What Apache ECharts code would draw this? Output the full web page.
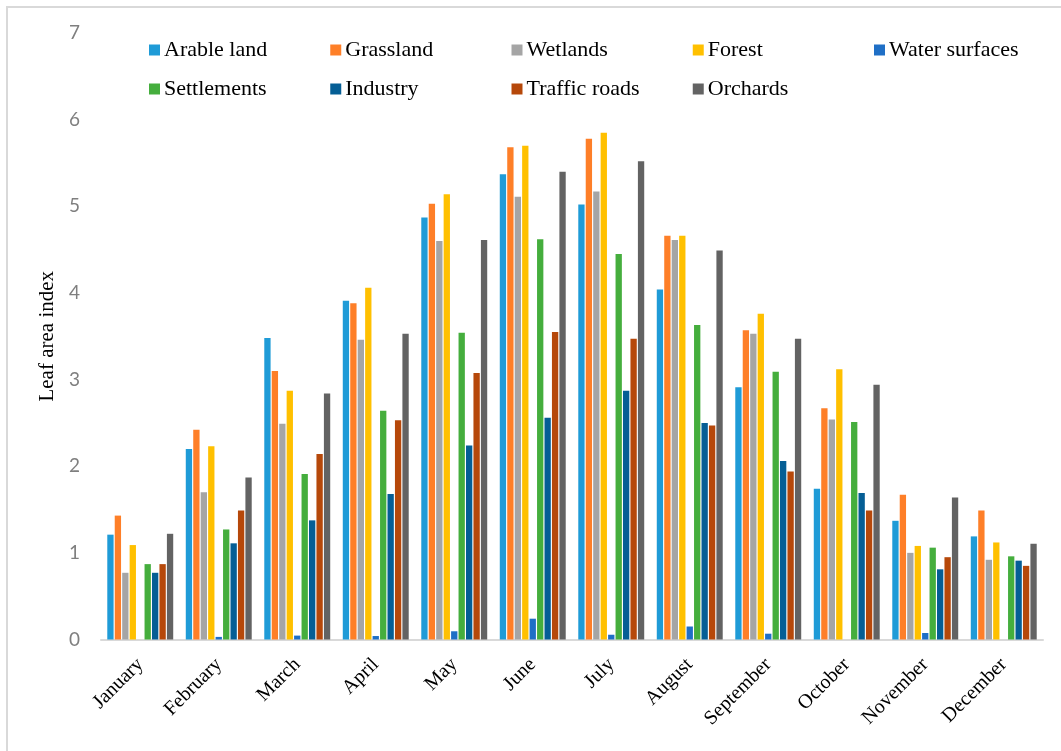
<!DOCTYPE html>
<html>
<head>
<meta charset="utf-8">
<script src="https://cdn.jsdelivr.net/npm/echarts@6/dist/echarts.min.js"></script>
<style>
  html, body { margin: 0; padding: 0; background: #fff; }
  #chart { width: 1061px; height: 751px; }
</style>
</head>
<body>
<div id="chart"></div>
<script>
// Monthly leaf area index by land-use class
const months = ['January', 'February', 'March', 'April', 'May', 'June',
  'July', 'August', 'September', 'October', 'November', 'December'];
const yTicks = [0, 1, 2, 3, 4, 5, 6, 7];

const arableLand    = [1.21, 2.20, 3.48, 3.91, 4.87, 5.37, 5.02, 4.04, 2.91, 1.74, 1.37, 1.19];
const grassland     = [1.43, 2.42, 3.10, 3.88, 5.03, 5.68, 5.78, 4.66, 3.57, 2.67, 1.67, 1.49];
const wetlands      = [0.77, 1.70, 2.49, 3.46, 4.60, 5.11, 5.17, 4.61, 3.53, 2.54, 1.00, 0.92];
const forest        = [1.09, 2.23, 2.87, 4.06, 5.14, 5.70, 5.85, 4.66, 3.76, 3.12, 1.08, 1.12];
const waterSurfaces = [0, 0.03, 0.045, 0.04, 0.095, 0.24, 0.055, 0.15, 0.067, 0, 0.075, 0];
const settlements   = [0.87, 1.27, 1.91, 2.64, 3.54, 4.62, 4.45, 3.63, 3.09, 2.51, 1.06, 0.96];
const industry      = [0.77, 1.11, 1.375, 1.68, 2.24, 2.56, 2.87, 2.50, 2.06, 1.69, 0.81, 0.91];
const trafficRoads  = [0.87, 1.49, 2.14, 2.53, 3.075, 3.55, 3.47, 2.47, 1.94, 1.49, 0.95, 0.85];
const orchards      = [1.22, 1.87, 2.84, 3.53, 4.61, 5.40, 5.52, 4.49, 3.47, 2.94, 1.64, 1.105];

const seriesDefs = [
  ['Arable land', arableLand, '#1f9bd7'],
  ['Grassland', grassland, '#fe7f28'],
  ['Wetlands', wetlands, '#a5a5a5'],
  ['Forest', forest, '#ffc000'],
  ['Water surfaces', waterSurfaces, '#1f6fc6'],
  ['Settlements', settlements, '#45ae3d'],
  ['Industry', industry, '#055e95'],
  ['Traffic roads', trafficRoads, '#b6480a'],
  ['Orchards', orchards, '#636363']
];

const serif = '"Liberation Serif", "Times New Roman", serif';

const legendCommon = {
  orient: 'horizontal',
  icon: 'rect',
  itemWidth: 11,
  itemHeight: 11,
  itemGap: 16.25,
  selectedMode: false,
  textStyle: {
    fontFamily: serif,
    fontSize: 22,
    color: '#000',
    width: 150,
    lineHeight: 24,
    padding: [0, 0, 0, -1]
  },
  padding: 0
};

const chart = echarts.init(document.getElementById('chart'), null, { renderer: 'canvas' });

chart.setOption({
  animation: false,
  backgroundColor: '#fff',
  graphic: [{
    type: 'rect',
    shape: { x: 7, y: 7, width: 2000, height: 2000 },
    style: { fill: 'none', stroke: '#d9d9d9', lineWidth: 2 },
    silent: true
  }],
  legend: [
    Object.assign({}, legendCommon, {
      left: 149, top: 38,
      data: seriesDefs.slice(0, 5).map(d => d[0])
    }),
    Object.assign({}, legendCommon, {
      left: 149, top: 77,
      data: seriesDefs.slice(5).map(d => d[0])
    })
  ],
  grid: { left: 101, right: 18, top: 33, bottom: 111.5, containLabel: false },
  xAxis: {
    type: 'category',
    data: months,
    axisTick: { show: false },
    axisLine: { lineStyle: { color: '#d9d9d9', width: 2 } },
    axisLabel: {
      rotate: 45,
      margin: 22,
      interval: 0,
      fontFamily: serif,
      fontSize: 20,
      color: '#000'
    }
  },
  yAxis: {
    type: 'value',
    min: yTicks[0],
    max: yTicks[yTicks.length - 1],
    interval: 1,
    name: 'Leaf area index',
    nameLocation: 'middle',
    nameGap: 35,
    nameTextStyle: { fontFamily: serif, fontSize: 21, color: '#000' },
    axisLine: { show: false },
    axisTick: { show: false },
    splitLine: { show: false },
    axisLabel: {
      margin: 21,
      fontFamily: 'Lato, "Open Sans", sans-serif',
      fontSize: 19,
      color: '#7f7f7f'
    }
  },
  series: seriesDefs.map(([name, values, color]) => ({
    name: name,
    type: 'bar',
    data: values,
    barGap: '18%',
    barCategoryGap: '16%',
    itemStyle: { color: color }
  }))
});
</script>
</body>
</html>
